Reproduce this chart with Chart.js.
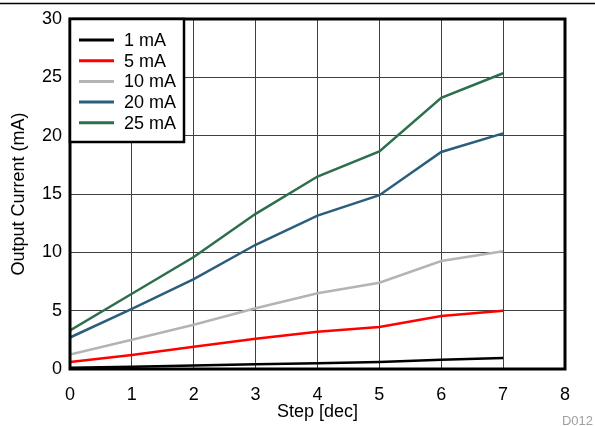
<!DOCTYPE html>
<html>
<head>
<meta charset="utf-8">
<script src="https://cdn.jsdelivr.net/npm/chart.js@4.4.0/dist/chart.umd.min.js"></script>
<style>
  html, body { margin: 0; padding: 0; background: #fff; }
  #wrap { width: 595px; height: 426px; position: relative; }
</style>
</head>
<body>
<div id="wrap"><canvas id="chart"></canvas></div>
<script>
const steps = [0, 1, 2, 3, 4, 5, 6, 7];
const seriesLabels = ['1 mA', '5 mA', '10 mA', '20 mA', '25 mA'];
const seriesColors = ['#000000', '#ff0000', '#b4b4b4', '#2b5d7c', '#2d6e4c'];
const current1mA = [0.1, 0.2, 0.3, 0.4, 0.5, 0.6, 0.8, 0.95];
const current5mA = [0.6, 1.2, 1.9, 2.6, 3.2, 3.6, 4.55, 5.0];
const current10mA = [1.25, 2.5, 3.8, 5.2, 6.5, 7.4, 9.25, 10.1];
const current20mA = [2.7, 5.15, 7.7, 10.65, 13.15, 14.9, 18.6, 20.2];
const current25mA = [3.3, 6.45, 9.6, 13.3, 16.5, 18.65, 23.25, 25.35];
const yTicks = [0, 5, 10, 15, 20, 25, 30];

const allSeries = [current1mA, current5mA, current10mA, current20mA, current25mA];
const FONT = "'Liberation Sans', Arial, sans-serif";

const datasets = allSeries.map((vals, i) => ({
    label: seriesLabels[i],
    data: steps.map((s, j) => ({ x: s, y: vals[j] })),
    borderColor: seriesColors[i],
    backgroundColor: seriesColors[i],
    borderWidth: 2.5,
    pointRadius: 0,
    tension: 0,
    fill: false
}));

// frame, legend box, top rule and figure id
const decorations = {
    id: 'decorations',
    afterDatasetsDraw(chart) {
        const { ctx, chartArea: a } = chart;
        ctx.save();
        ctx.strokeStyle = '#000';
        ctx.lineWidth = 3;
        ctx.strokeRect(a.left, a.top, a.right - a.left, a.bottom - a.top);

        // legend
        const bx = a.left, by = a.top, bw = 114, bh = 123;
        ctx.fillStyle = '#fff';
        ctx.fillRect(bx, by, bw, bh);
        ctx.lineWidth = 2.5;
        ctx.strokeRect(bx, by, bw, bh);
        ctx.font = '18px ' + FONT;
        ctx.textBaseline = 'middle';
        chart.data.datasets.forEach((ds, i) => {
            const y = by + 21 + i * 20.7;
            ctx.strokeStyle = ds.borderColor;
            ctx.lineWidth = 3;
            ctx.beginPath();
            ctx.moveTo(bx + 9, y);
            ctx.lineTo(bx + 44, y);
            ctx.stroke();
            ctx.fillStyle = '#000';
            ctx.fillText(ds.label, bx + 54, y + 1);
        });

        // top rule
        ctx.strokeStyle = '#000';
        ctx.lineWidth = 1.5;
        ctx.beginPath();
        ctx.moveTo(0, 3.5);
        ctx.lineTo(595, 3.5);
        ctx.stroke();

        ctx.fillStyle = '#a0a0a0';
        ctx.font = '13px ' + FONT;
        ctx.textAlign = 'right';
        ctx.fillText('D012', 593, 421);
        ctx.restore();
    }
};

new Chart(document.getElementById('chart'), {
    type: 'line',
    data: { datasets },
    options: {
        responsive: true,
        maintainAspectRatio: false,
        animation: false,
        layout: { padding: { top: 19, right: 30, left: 0, bottom: 0 } },
        plugins: {
            legend: { display: false },
            tooltip: { enabled: false }
        },
        scales: {
            x: {
                type: 'linear',
                min: 0,
                max: 8,
                ticks: { stepSize: 1, color: '#000', font: { family: FONT, size: 18 }, padding: 15 },
                grid: { color: '#404040', lineWidth: 1, drawTicks: false },
                border: { display: false },
                title: { display: true, text: 'Step [dec]', color: '#000', font: { family: FONT, size: 18 }, padding: { top: 0, bottom: 3 } },
                afterFit: axis => { axis.height = 57; }
            },
            y: {
                min: 0,
                max: 30,
                afterBuildTicks: axis => { axis.ticks = yTicks.map(v => ({ value: v })); },
                ticks: { color: '#000', font: { family: FONT, size: 18 }, padding: 8 },
                grid: { color: '#404040', lineWidth: 1, drawTicks: false },
                border: { display: false },
                title: { display: true, text: 'Output Current (mA)', color: '#000', font: { family: FONT, size: 18 }, padding: { top: 8, bottom: 0 } },
                afterFit: axis => { axis.width = 70; }
            }
        }
    },
    plugins: [decorations]
});
</script>
</body>
</html>
